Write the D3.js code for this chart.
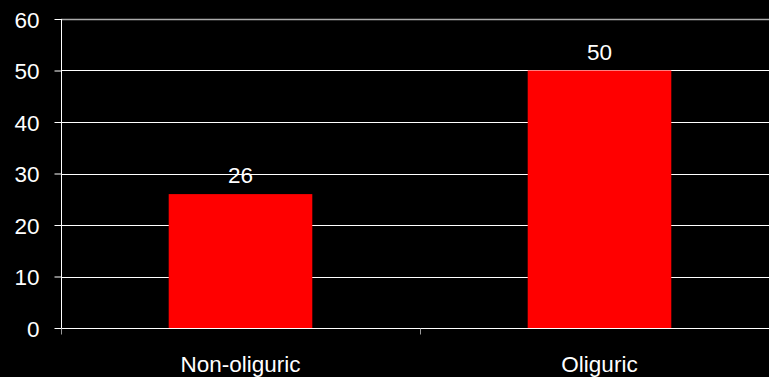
<!DOCTYPE html>
<html>
<head>
<meta charset="utf-8">
<script src="https://cdn.jsdelivr.net/npm/d3@7"></script>
<style>
  html, body { margin: 0; padding: 0; background: #000; }
  svg { display: block; }
</style>
</head>
<body>
<svg id="chart" width="769" height="377"></svg>
<script>
const categories = ["Non-oliguric", "Oliguric"];
const values = [26, 50];
const yTicks = [0, 10, 20, 30, 40, 50, 60];

const W = 769, H = 377;
const margin = { left: 61, top: 19, bottom: 49 };
const plotRight = 779;

const svg = d3.select("#chart");
svg.append("rect").attr("width", W).attr("height", H).attr("fill", "#000");

const x = d3.scaleBand().domain(categories).range([margin.left, plotRight]).padding(0);
const y = d3.scaleLinear().domain([0, 60]).range([H - margin.bottom, margin.top]);

const font = "Arial, 'Liberation Sans', sans-serif";
const fontSize = "22.5px";

// gridlines
svg.append("g")
  .selectAll("line")
  .data(yTicks.filter(t => t > 0))
  .join("line")
  .attr("x1", margin.left).attr("x2", W)
  .attr("y1", d => Math.round(y(d)) + 0.5).attr("y2", d => Math.round(y(d)) + 0.5)
  .attr("stroke", d => d === 60 ? "#aaa" : "#fff")
  .attr("stroke-width", d => d === 60 ? 1.5 : 1);

// bars
const barFrac = 0.4;
svg.append("g")
  .selectAll("rect")
  .data(values)
  .join("rect")
  .attr("x", (d, i) => x(categories[i]) + x.bandwidth() * (1 - barFrac) / 2)
  .attr("width", x.bandwidth() * barFrac)
  .attr("y", d => y(d))
  .attr("height", d => y(0) - y(d))
  .attr("fill", "#ff0000");

// value labels
svg.append("g")
  .selectAll("text")
  .data(values)
  .join("text")
  .attr("x", (d, i) => x(categories[i]) + x.bandwidth() / 2)
  .attr("y", d => y(d) - 11)
  .attr("text-anchor", "middle")
  .attr("fill", "#fff")
  .style("font-family", font)
  .style("font-size", fontSize)
  .text(d => d);

// y axis
const yAxis = svg.append("g")
  .attr("transform", `translate(${margin.left + 0.5},0)`)
  .call(d3.axisLeft(y).tickValues(yTicks).tickSize(7).tickPadding(15));
yAxis.attr("font-size", null).attr("font-family", null);
yAxis.select(".domain").attr("stroke", "#fff").attr("d", `M0,${y(60)}V${y(0)}`);
yAxis.selectAll(".tick line").attr("stroke", "#fff");
yAxis.selectAll(".tick text")
  .attr("fill", "#fff")
  .attr("dy", "0.36em")
  .style("font-family", font)
  .style("font-size", fontSize);

// x axis
const xAxis = svg.append("g")
  .attr("transform", `translate(0,${Math.round(y(0)) + 0.5})`);
xAxis.append("line")
  .attr("x1", margin.left).attr("x2", W)
  .attr("stroke", "#fff");
xAxis.selectAll("line.sep")
  .data(categories)
  .join("line")
  .attr("class", "sep")
  .attr("x1", d => x(d) + 0.5).attr("x2", d => x(d) + 0.5)
  .attr("y1", 0).attr("y2", 6)
  .attr("stroke", "#999");
xAxis.selectAll("text")
  .data(categories)
  .join("text")
  .attr("x", d => x(d) + x.bandwidth() / 2)
  .attr("y", 43)
  .attr("text-anchor", "middle")
  .attr("fill", "#fff")
  .style("font-family", font)
  .style("font-size", fontSize)
  .text(d => d);
</script>
</body>
</html>
